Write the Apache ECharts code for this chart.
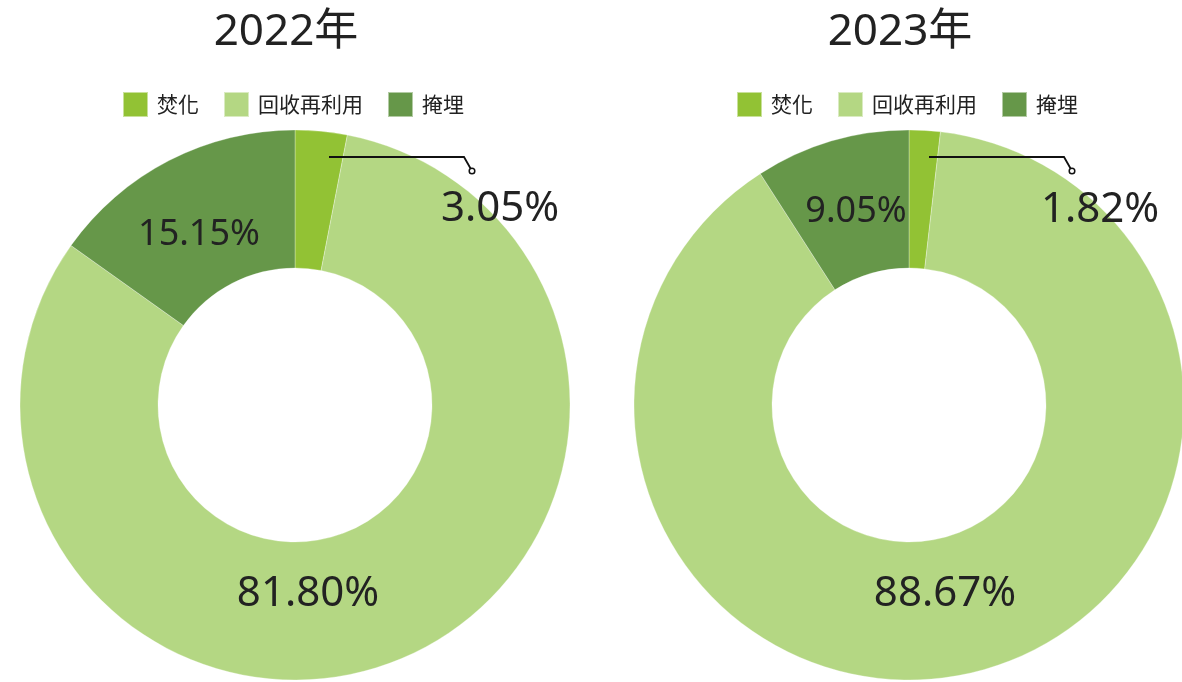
<!DOCTYPE html>
<html>
<head>
<meta charset="utf-8">
<script src="https://cdn.jsdelivr.net/npm/echarts@6/dist/echarts.min.js"></script>
<style>
  html, body { margin: 0; padding: 0; background: #fff; }
  #chart { width: 1182px; height: 682px; }
</style>
</head>
<body>
<div id="chart"></div>
<script>
// Waste treatment share by method, per year (%)
const categories = ['焚化', '回收再利用', '掩埋'];
const years = ['2022年', '2023年'];
const values2022 = [3.05, 81.80, 15.15];
const values2023 = [1.82, 88.67, 9.05];

const colors = ['#92c234', '#b4d783', '#669749'];
const FONT = '"Noto Sans", "Noto Sans CJK TC", sans-serif';
const CJK = '"Noto Sans CJK TC", "Noto Sans", sans-serif';

const pct = v => v.toFixed(2) + '%';

// layout of each donut: centre, value labels and the callout for the thin slice
const panels = [
  { cx: 295, cy: 405, values: values2022, title: years[0],
    labels: [ { x: 500, y: 209, size: 42 }, { x: 308, y: 594, size: 42 }, { x: 199, y: 235, size: 36 } ],
    leader: [[329, 157], [464, 157], [472, 171]] },
  { cx: 909, cy: 405, values: values2023, title: years[1],
    labels: [ { x: 1100, y: 210, size: 42 }, { x: 945, y: 594, size: 42 }, { x: 856, y: 212, size: 36 } ],
    leader: [[929, 157], [1064, 157], [1072, 171]] }
];

const chart = echarts.init(document.getElementById('chart'), null, { renderer: 'canvas' });

const graphics = [];
panels.forEach(p => {
  p.labels.forEach((l, i) => {
    graphics.push({
      type: 'text', x: l.x, y: l.y, z: 10,
      style: { text: pct(p.values[i]), fill: '#222', fontSize: l.size,
               fontFamily: FONT, align: 'center', verticalAlign: 'middle' }
    });
  });
  graphics.push({
    type: 'polyline', z: 10,
    shape: { points: p.leader },
    style: { stroke: '#111', lineWidth: 1.8, fill: null }
  });
  graphics.push({
    type: 'circle', z: 11,
    shape: { cx: p.leader[2][0], cy: p.leader[2][1], r: 2.8 },
    style: { stroke: '#111', lineWidth: 1.5, fill: '#fff' }
  });
});

chart.setOption({
  animation: false,
  color: colors,
  title: panels.map(p => ({
    text: p.title, left: p.cx - 14, top: 5, textAlign: 'center',
    textStyle: { fontSize: 44, fontWeight: 'normal', color: '#222', fontFamily: FONT }
  })),
  legend: panels.map(p => ({
    data: categories, left: p.cx - 173, top: 91, padding: 0,
    icon: 'rect', itemWidth: 25, itemHeight: 25, itemGap: 24,
    textStyle: { fontSize: 21, color: '#222', fontFamily: CJK, padding: [0, 0, 0, 4] }
  })),
  series: panels.map(p => ({
    type: 'pie',
    center: [p.cx, p.cy],
    radius: [137, 275],
    startAngle: 90,
    clockwise: true,
    silent: true,
    label: { show: false },
    labelLine: { show: false },
    itemStyle: { borderColor: 'rgba(255,255,255,0.5)', borderWidth: 0.6 },
    data: categories.map((c, i) => ({ name: c, value: p.values[i] }))
  })),
  graphic: graphics
});
</script>
</body>
</html>
